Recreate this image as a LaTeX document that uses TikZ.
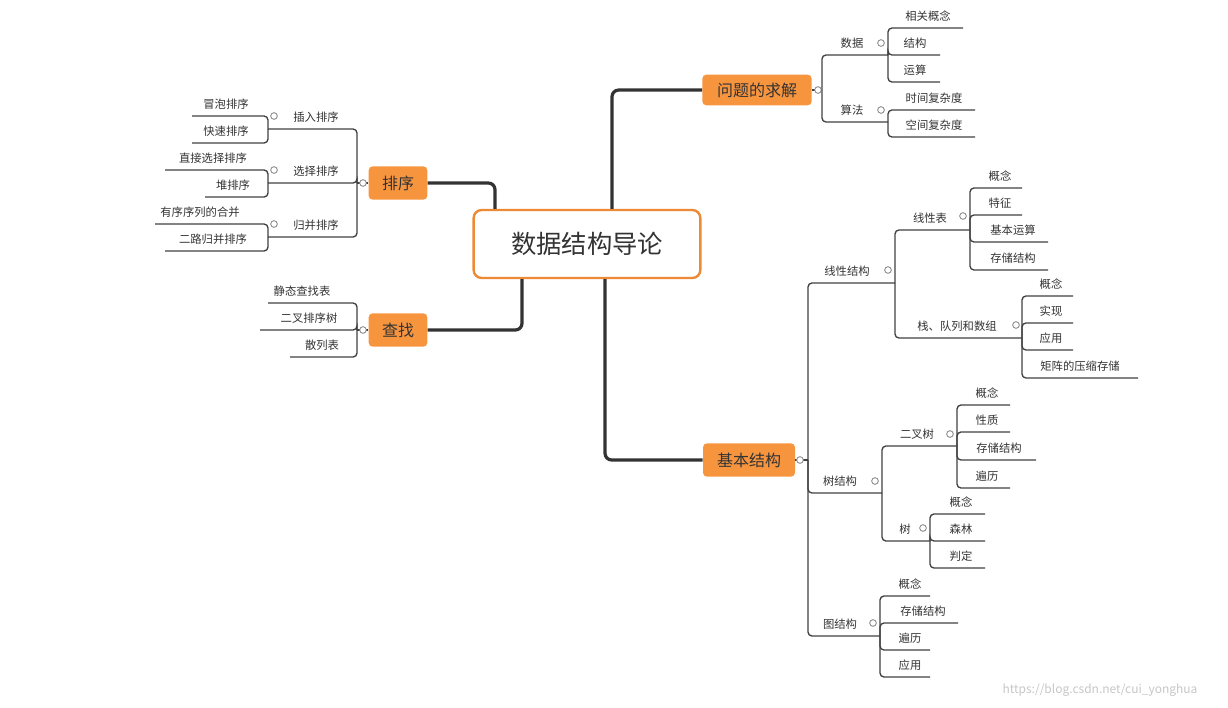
\documentclass[tikz,border=0pt]{standalone}
\usepackage{fontspec}
\setmainfont{Noto Sans CJK SC}
\usetikzlibrary{calc}
\definecolor{ln}{HTML}{404040}
\definecolor{org}{HTML}{F7953F}
\definecolor{orgb}{HTML}{EE8A35}
\definecolor{tx}{HTML}{333333}
\tikzset{
  lbl/.style={text=tx,font=\fontsize{8.5}{10}\selectfont,inner sep=1pt},
  thin/.style={draw=ln,line width=1pt,rounded corners=3pt},
  main/.style={draw=tx,line width=2.4pt,rounded corners=5pt},
  box/.style={fill=org,rounded corners=3pt,text=tx,font=\fontsize{12}{14}\selectfont},
  knob/.style={circle,draw=gray,fill=white,line width=0.6pt,inner sep=0pt,minimum size=5pt},
}
% name, near x, far x, y, text, text x
\newcommand\tp[6]{\coordinate (#1-s) at (#2,#4); \coordinate (#1-e) at (#3,#4);
  \node[lbl] (#1) at (#6,#4-12) {#5};}
\newcommand\ch[2]{\draw[thin] (#1-e) |- (#2-e);}
\begin{document}
\begin{tikzpicture}[x=0.75pt,y=-0.75pt]
\useasboundingbox (0,0) rectangle (1228,707);
% main nodes
\node[draw=orgb,line width=1.8pt,fill=white,rounded corners=6pt,minimum width=170pt,minimum height=51pt,text=tx,font=\fontsize{19}{22}\selectfont] (C) at (587,244) {数据结构导论};
\node[box,minimum width=82pt,minimum height=23pt] (Q) at (757,90) {问题的求解};
\node[box,minimum width=69pt,minimum height=25pt] (B) at (749,460) {基本结构};
\node[box,minimum width=44pt,minimum height=25pt] (S) at (398,183) {排序};
\node[box,minimum width=44pt,minimum height=25pt] (F) at (398,330) {查找};
\draw[main] (C.north) ++(25,0) |- (Q.west);
\draw[main] (C.south) ++(18,0) |- (B.west);
\draw[main] (S.east) -| ($(C.north)+(-92,0)$);
\draw[main] (F.east) -| ($(C.south)+(-65,0)$);
\coordinate (Q-e) at (822,90);
\coordinate (B-e) at (808,460);
\coordinate (S-e) at (357,183);
\coordinate (F-e) at (357,330);
\draw[thin] (Q.east)--(Q-e); \draw[thin] (B.east)--(B-e);
\draw[thin] (S.west)--(S-e); \draw[thin] (F.west)--(F-e);
% ---- 问题的求解
\tp{d}{822}{888}{55}{数据}{852}
\tp{a}{822}{888}{122}{算法}{852}
\ch{Q}{d}\ch{Q}{a}
\tp{d1}{888}{963}{28}{相关概念}{928}
\tp{d2}{888}{940}{55}{结构}{915}
\tp{d3}{888}{940}{82}{运算}{915}
\ch{d}{d1}\ch{d}{d2}\ch{d}{d3}
\tp{a1}{888}{975}{110}{时间复杂度}{934}
\tp{a2}{888}{975}{137}{空间复杂度}{934}
\ch{a}{a1}\ch{a}{a2}
% ---- 基本结构
\tp{lin}{808}{895}{283}{线性结构}{847}
\tp{tr}{808}{882}{493}{树结构}{840}
\tp{gr}{808}{880}{636}{图结构}{840}
\ch{B}{lin}\ch{B}{tr}\ch{B}{gr}
\tp{lt}{895}{970}{230}{线性表}{930}
\tp{sq}{895}{1022}{338}{栈、队列和数组}{957}
\ch{lin}{lt}\ch{lin}{sq}
\tp{lt1}{970}{1022}{188}{概念}{1000}
\tp{lt2}{970}{1022}{215}{特征}{1000}
\tp{lt3}{970}{1048}{242}{基本运算}{1013}
\tp{lt4}{970}{1048}{270}{存储结构}{1013}
\ch{lt}{lt1}\ch{lt}{lt2}\ch{lt}{lt3}\ch{lt}{lt4}
\tp{sq1}{1022}{1073}{296}{概念}{1051}
\tp{sq2}{1022}{1073}{323}{实现}{1051}
\tp{sq3}{1022}{1073}{350}{应用}{1051}
\tp{sq4}{1022}{1138}{378}{矩阵的压缩存储}{1080}
\ch{sq}{sq1}\ch{sq}{sq2}\ch{sq}{sq3}\ch{sq}{sq4}
\tp{bt}{882}{957}{446}{二叉树}{917}
\tp{t}{882}{930}{541}{树}{905}
\ch{tr}{bt}\ch{tr}{t}
\tp{bt1}{957}{1010}{405}{概念}{987}
\tp{bt2}{957}{1010}{432}{性质}{987}
\tp{bt3}{957}{1036}{460}{存储结构}{999}
\tp{bt4}{957}{1010}{488}{遍历}{987}
\ch{bt}{bt1}\ch{bt}{bt2}\ch{bt}{bt3}\ch{bt}{bt4}
\tp{t1}{930}{985}{514}{概念}{961}
\tp{t2}{930}{985}{541}{森林}{961}
\tp{t3}{930}{985}{568}{判定}{961}
\ch{t}{t1}\ch{t}{t2}\ch{t}{t3}
\tp{g1}{880}{930}{596}{概念}{910}
\tp{g2}{880}{958}{623}{存储结构}{923}
\tp{g3}{880}{930}{650}{遍历}{910}
\tp{g4}{880}{930}{677}{应用}{910}
\ch{gr}{g1}\ch{gr}{g2}\ch{gr}{g3}\ch{gr}{g4}
% ---- 排序
\tp{ins}{357}{268}{129}{插入排序}{316}
\tp{sel}{357}{268}{183}{选择排序}{316}
\tp{mer}{357}{268}{237}{归并排序}{316}
\ch{S}{ins}\ch{S}{sel}\ch{S}{mer}
\tp{ins1}{268}{192}{116}{冒泡排序}{226}
\tp{ins2}{268}{192}{143}{快速排序}{226}
\ch{ins}{ins1}\ch{ins}{ins2}
\tp{sel1}{268}{165}{170}{直接选择排序}{213}
\tp{sel2}{268}{205}{197}{堆排序}{233}
\ch{sel}{sel1}\ch{sel}{sel2}
\tp{mer1}{268}{155}{224}{有序序列的合并}{200}
\tp{mer2}{268}{165}{251}{二路归并排序}{213}
\ch{mer}{mer1}\ch{mer}{mer2}
% ---- 查找
\tp{f1}{357}{268}{303}{静态查找表}{302}
\tp{f2}{357}{260}{330}{二叉排序树}{309}
\tp{f3}{357}{290}{357}{散列表}{322}
\ch{F}{f1}\ch{F}{f2}\ch{F}{f3}
% knobs
\foreach \n/\x/\y in {k1/818/90,k2/800/460,k3/363/183,k4/363/330,k5/881/43,k6/881/110,
  k7/888/270,k8/963/216,k9/1016/325,k10/875/481,k11/950/434,k12/923/528,k13/873/623,
  k14/274/116,k15/274/170,k16/274/224}
  \node[knob] (\n) at (\x,\y) {};
\node[text=gray!45,font=\fontsize{9}{10}\selectfont] (wm) at (1100,690) {https://blog.csdn.net/cui\_yonghua};
\end{tikzpicture}
\end{document}
